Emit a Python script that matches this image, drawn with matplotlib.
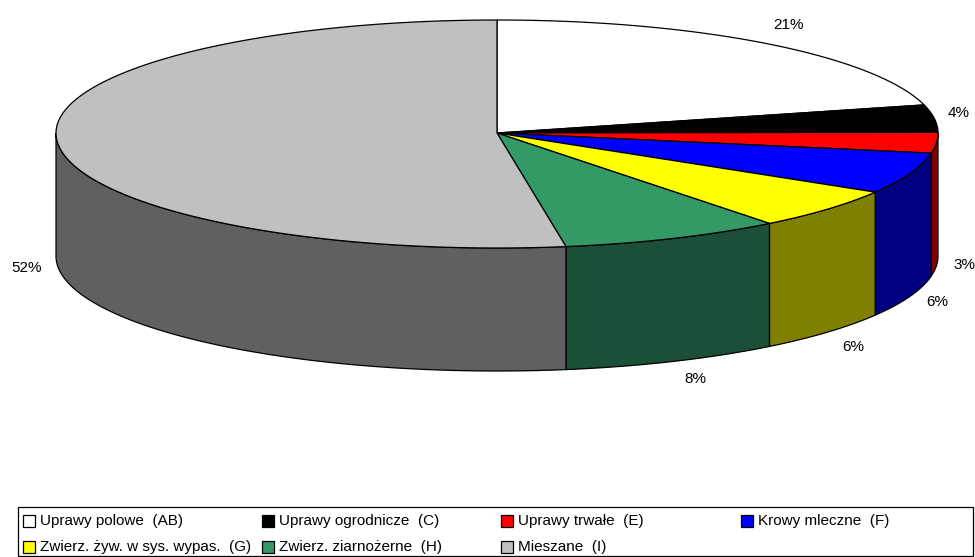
import numpy as np
import matplotlib
matplotlib.use('Agg')
import matplotlib.pyplot as plt
from matplotlib.patches import Polygon, Rectangle

# Share of farms by type, shown as a tilted pie
names = ['Uprawy polowe  (AB)', 'Uprawy ogrodnicze  (C)', 'Uprawy trwałe  (E)', 'Krowy mleczne  (F)',
         'Zwierz. żyw. w sys. wypas.  (G)', 'Zwierz. ziarnożerne  (H)', 'Mieszane  (I)']
values = [21.0, 3.9, 2.9, 5.8, 5.8, 8.1, 52.5]
labels = ['21%', '4%', '3%', '6%', '6%', '8%', '52%']
colors = ['#ffffff', '#000000', '#ff0000', '#0000ff', '#ffff00', '#339966', '#c0c0c0']
side_colors = ['#808080', '#000000', '#800000', '#000080', '#808000', '#1c4f38', '#606060']
label_pos = [(788, 25), (959, 113), (964, 265), (937, 302), (853, 347), (695, 379), (27, 268)]

plt.rcParams['font.family'] = ['Liberation Sans', 'DejaVu Sans']

W, H = 975, 557
fig = plt.figure(figsize=(W / 100, H / 100), dpi=100)
ax = fig.add_axes([0, 0, 1, 1])
ax.set_xlim(0, W)
ax.set_ylim(H, 0)
ax.axis('off')

# Pie geometry in pixels, the near half is a bit deeper (perspective)
cx, cy = 497, 133
rx, ry_back, ry_front = 441, 113, 115
depth = 123

def rim(a0, a1, n=120):
    # angle runs clockwise from 12 o'clock
    t = np.radians(np.linspace(a0, a1, n))
    c = np.cos(t)
    return cx + rx * np.sin(t), cy - np.where(c > 0, ry_back, ry_front) * c

edges = np.cumsum([0] + values) / sum(values) * 360

# Side wall first, only the front half of the rim shows
for i in range(len(values)):
    a0, a1 = max(edges[i], 90), min(edges[i + 1], 270)
    if a1 <= a0:
        continue
    x, y = rim(a0, a1)
    pts = np.r_[np.c_[x, y], np.c_[x[::-1], y[::-1] + depth]]
    ax.add_patch(Polygon(pts, closed=True, fc=side_colors[i], ec='black', lw=0.9, zorder=1))

# Top face
for i in range(len(values)):
    x, y = rim(edges[i], edges[i + 1])
    pts = np.r_[[[cx, cy]], np.c_[x, y]]
    ax.add_patch(Polygon(pts, closed=True, fc=colors[i], ec='black', lw=0.9, zorder=2))

for (lx, ly), txt in zip(label_pos, labels):
    ax.text(lx, ly, txt, fontsize=11, ha='center', va='center', color='black')

# Legend box
ax.add_patch(Rectangle((18, 507), 955, 49, fc='white', ec='black', lw=0.9, zorder=1))
col_x = [23, 262, 501, 741]
row_y = [521, 547]
for i, name in enumerate(names):
    lx = col_x[i % 4]
    ly = row_y[i // 4]
    ax.add_patch(Rectangle((lx, ly - 6), 12, 12, fc=colors[i], ec='black', lw=0.9, zorder=2))
    ax.text(lx + 17, ly, name, fontsize=11, ha='left', va='center', color='black')

fig.savefig('out.png', dpi=100)
